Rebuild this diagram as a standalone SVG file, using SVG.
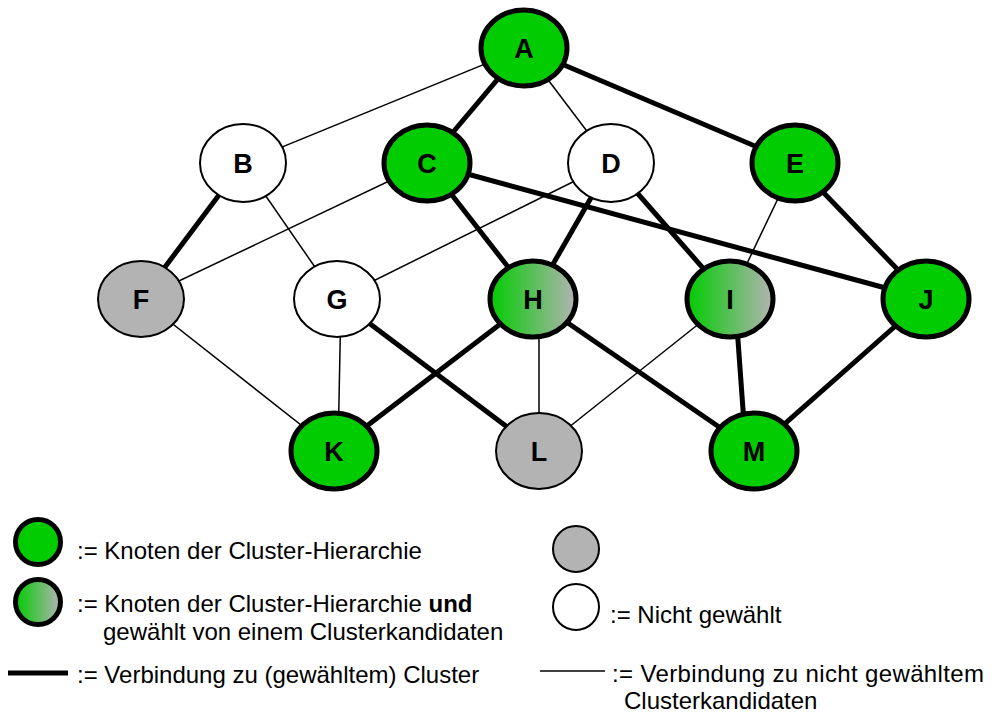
<svg xmlns="http://www.w3.org/2000/svg" width="998" height="715" viewBox="0 0 998 715">
  <style>
    .thin { stroke: #000; stroke-width: 1.5; fill: none; }
    .thick { stroke: #000; stroke-width: 5; fill: none; }
    .green { fill: #00cc00; stroke: #000; stroke-width: 5; }
    .mixed { fill: url(#mix); stroke: #000; stroke-width: 5; }
    .grey { fill: #b3b3b3; stroke: #000; stroke-width: 2; }
    .white { fill: #fff; stroke: #000; stroke-width: 2; }
    .lbl { font-family: "Liberation Sans", Arial, sans-serif; font-weight: bold; font-size: 27px; text-anchor: middle; fill: #000; }
    .leg { font-family: "Liberation Sans", Arial, sans-serif; font-size: 24px; fill: #000; }
  </style>
  <defs>
    <linearGradient id="mix" x1="0" y1="0" x2="1" y2="0">
      <stop offset="0" stop-color="#00cc00"/>
      <stop offset="1" stop-color="#b3b3b3"/>
    </linearGradient>
  </defs>
  <rect width="998" height="715" fill="#fff"/>

  <!-- edges -->
  <g id="edges">
    <line class="thin" x1="524" y1="48" x2="243" y2="163"/>
    <line class="thin" x1="524" y1="48" x2="611" y2="163"/>
    <line class="thin" x1="243" y1="163" x2="337" y2="299"/>
    <line class="thin" x1="427" y1="163" x2="141" y2="299"/>
    <line class="thin" x1="611" y1="163" x2="337" y2="299"/>
    <line class="thin" x1="795" y1="163" x2="730" y2="299"/>
    <line class="thin" x1="141" y1="299" x2="334" y2="451"/>
    <line class="thin" x1="341" y1="299" x2="338" y2="451"/>
    <line class="thin" x1="539" y1="299" x2="539" y2="451"/>
    <line class="thin" x1="730" y1="299" x2="539" y2="451"/>

    <line class="thick" x1="524" y1="48" x2="427" y2="163"/>
    <line class="thick" x1="524" y1="48" x2="795" y2="163"/>
    <line class="thick" x1="243" y1="163" x2="141" y2="299"/>
    <line class="thick" x1="427" y1="163" x2="533" y2="299"/>
    <line class="thick" x1="427" y1="163" x2="926" y2="299"/>
    <line class="thick" x1="611" y1="163" x2="533" y2="299"/>
    <line class="thick" x1="611" y1="163" x2="730" y2="299"/>
    <line class="thick" x1="795" y1="163" x2="926" y2="299"/>
    <line class="thick" x1="337" y1="299" x2="539" y2="451"/>
    <line class="thick" x1="533" y1="299" x2="334" y2="451"/>
    <line class="thick" x1="533" y1="299" x2="754" y2="451"/>
    <line class="thick" x1="735" y1="299" x2="746" y2="451"/>
    <line class="thick" x1="926" y1="299" x2="754" y2="451"/>
  </g>

  <!-- nodes -->
  <g id="node-A"><ellipse class="green" cx="524" cy="48" rx="43" ry="38"/><text class="lbl" x="524" y="58">A</text></g>
  <g id="node-B"><ellipse class="white" cx="243" cy="163" rx="43" ry="39"/><text class="lbl" x="243" y="173">B</text></g>
  <g id="node-C"><ellipse class="green" cx="427" cy="163" rx="43" ry="38"/><text class="lbl" x="427" y="173">C</text></g>
  <g id="node-D"><ellipse class="white" cx="611" cy="163" rx="43" ry="39"/><text class="lbl" x="611" y="173">D</text></g>
  <g id="node-E"><ellipse class="green" cx="795" cy="163" rx="43" ry="38"/><text class="lbl" x="795" y="173">E</text></g>
  <g id="node-F"><ellipse class="grey" cx="141" cy="299" rx="43" ry="38"/><text class="lbl" x="141" y="309">F</text></g>
  <g id="node-G"><ellipse class="white" cx="337" cy="299" rx="43" ry="38"/><text class="lbl" x="337" y="309">G</text></g>
  <g id="node-H"><ellipse class="mixed" cx="533" cy="299" rx="43" ry="38"/><text class="lbl" x="533" y="309">H</text></g>
  <g id="node-I"><ellipse class="mixed" cx="730" cy="299" rx="43" ry="38"/><text class="lbl" x="730" y="309">I</text></g>
  <g id="node-J"><ellipse class="green" cx="926" cy="299" rx="43" ry="38"/><text class="lbl" x="926" y="309">J</text></g>
  <g id="node-K"><ellipse class="green" cx="334" cy="451" rx="43" ry="38"/><text class="lbl" x="334" y="461">K</text></g>
  <g id="node-L"><ellipse class="grey" cx="539" cy="451" rx="43" ry="38"/><text class="lbl" x="539" y="461">L</text></g>
  <g id="node-M"><ellipse class="green" cx="754" cy="451" rx="43" ry="38"/><text class="lbl" x="754" y="461">M</text></g>

  <!-- legend -->
  <g id="legend">
    <circle class="green" cx="38" cy="542" r="22.5"/>
    <text class="leg" x="77" y="559">:= Knoten der Cluster-Hierarchie</text>
    <circle class="mixed" cx="38" cy="602" r="22.5"/>
    <text class="leg" x="77" y="612">:= Knoten der Cluster-Hierarchie <tspan font-weight="bold">und</tspan></text>
    <text class="leg" x="103" y="640">gewählt von einem Clusterkandidaten</text>
    <line class="thick" x1="8" y1="673" x2="68" y2="673"/>
    <text class="leg" x="77" y="683">:= Verbindung zu (gewähltem) Cluster</text>

    <circle class="grey" cx="576" cy="549" r="23"/>
    <circle class="white" cx="576" cy="607" r="23"/>
    <text class="leg" x="610" y="623">:= Nicht gewählt</text>
    <line class="thin" x1="540" y1="671" x2="605" y2="671"/>
    <text class="leg" x="612" y="682" textLength="372" lengthAdjust="spacing">:= Verbindung zu nicht gewähltem</text>
    <text class="leg" x="624" y="709">Clusterkandidaten</text>
  </g>
</svg>
